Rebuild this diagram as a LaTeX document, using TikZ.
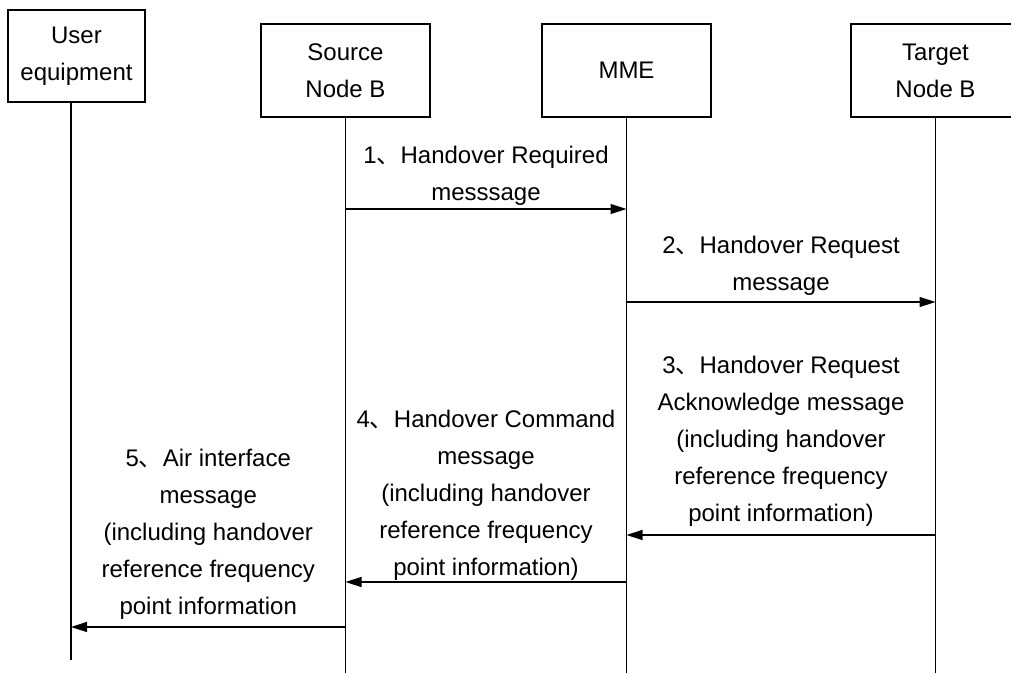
\documentclass[tikz,border=0pt]{standalone}
\usepackage{fontspec}
\setmainfont{Liberation Sans}
\newfontfamily\cjk{Noto Sans CJK SC}
\usepackage{tikz}
\usetikzlibrary{arrows.meta}

\tikzset{
    actor/.style={draw, line width=1.4bp, minimum width=169bp,
                  minimum height=93bp, align=center, inner sep=0pt},
    life/.style={line width=1.4bp},
    msg/.style={line width=1.4bp, ->},
    lbl/.style={align=center, inner sep=0pt},
}
\newcommand{\dun}{{\cjk 、}}

\begin{document}
\begin{tikzpicture}[
        x=1bp, y=1bp,
        >={Triangle[length=16bp,width=10bp]},
        font=\fontsize{24bp}{37bp}\selectfont,
    ]
    \useasboundingbox (0,0) rectangle (1011,-673);

    \node[actor, minimum width=137bp, minimum height=92bp] (ue) at (76.5,-56) {User\\equipment};
    \node[actor] (src) at (345.5,-70.5) {Source\\Node B};
    \node[actor] (mme) at (626.5,-70.5) {MME};
    \node[actor] (tgt) at (935.5,-70.5) {Target\\Node B};

    % lifelines
    \coordinate (uel) at ([xshift=-5.5bp]ue.south);
    \draw[life] (uel) -- (uel |- 0,-660);
    \foreach \n in {src, mme, tgt}
        \draw[life] (\n.south) -- (\n.south |- 0,-673);

    % messages
    \draw[msg] (src.south |- 0,-209) -- (mme.south |- 0,-209)
        node[lbl, midway, above=2.5bp] {1\dun Handover Required\\messsage};
    \draw[msg] (mme.south |- 0,-302) -- (tgt.south |- 0,-302)
        node[lbl, midway, above=5.5bp] {2\dun Handover Request\\message};
    \draw[msg] (tgt.south |- 0,-535) -- (mme.south |- 0,-535)
        node[lbl, midway, above=7.5bp] {3\dun Handover Request\\Acknowledge message\\(including handover\\reference frequency\\point information)};
    \draw[msg] (mme.south |- 0,-582) -- (src.south |- 0,-582)
        node[lbl, midway, above=0.5bp] {4\dun Handover Command\\message\\(including handover\\reference frequency\\point information)};
    \draw[msg] (src.south |- 0,-627) -- (uel |- 0,-627)
        node[lbl, midway, above=7bp] {5\dun Air interface\\message\\(including handover\\reference frequency\\point information};

\end{tikzpicture}
\end{document}
